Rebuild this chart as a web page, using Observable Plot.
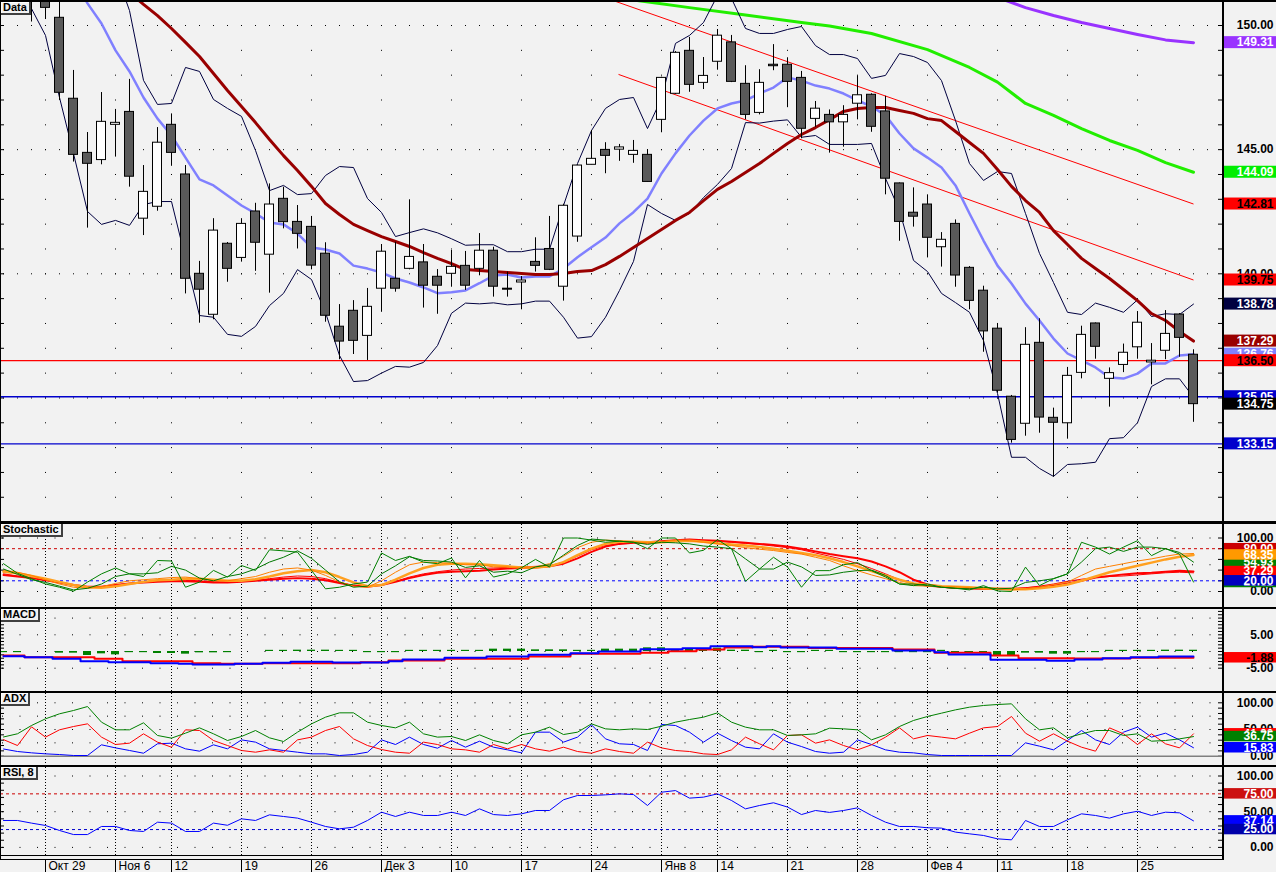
<!DOCTYPE html>
<html><head><meta charset="utf-8">
<script src="https://cdn.jsdelivr.net/npm/d3@7"></script>
<script src="https://cdn.jsdelivr.net/npm/@observablehq/plot@0.6"></script>
<style>
html,body{margin:0;padding:0;background:#f2f2f2;}
#chart{position:relative;width:1276px;height:872px;background:#f2f2f2;overflow:hidden;}
.bar{position:absolute;background:#000;}
.tag{position:absolute;left:1px;font:bold 11px "Liberation Sans",Arial,sans-serif;color:#000;background:#f2f2f2;padding:0 2px 0 2px;line-height:11px;height:11px;border-right:2px solid #404040;border-bottom:2px solid #404040;box-shadow:inset 1px 1px 0 #fff;}
</style></head><body><div id="chart"></div>
<script>
// ---------- DATA (bar index k = -3 .. 82, k=0 is Oct 29) ----------
const firstK = -3;
const tickK = [0,5,9,14,19,24,29,34,39,44,48,53,58,63,68,73,78];
const tickLabels = ["Окт 29","Ноя 6","12","19","26","Дек 3","10","17","24","Янв 8","14","21","28","Фев 4","11","18","25"];

const open = [null,null,151.8,
151.6,150.31,147.05,144.87,144.58,146.00,146.52,142.22,142.70,146.00,
144.00,140.00,138.35,141.21,140.64,142.51,140.77,143.02,142.09,141.89,
140.81,137.87,138.51,137.50,139.40,139.80,140.20,140.46,139.88,140.00,
140.32,140.20,140.93,139.40,139.65,140.48,141.00,139.48,141.50,144.39,
144.99,145.00,144.79,144.79,146.20,147.25,148.98,147.69,148.54,149.32,
147.65,146.48,148.42,148.42,147.89,146.24,146.40,146.10,146.85,147.21,
146.54,143.64,142.46,142.79,141.07,142.01,140.24,139.32,137.79,135.05,
133.96,137.22,134.20,133.98,136.01,138.00,135.77,136.33,137.04,136.43,
136.90,138.36,136.74];
const high = [null,null,152.2,
152.0,151.3,148.19,145.69,147.30,146.62,147.83,144.36,145.89,146.44,
144.36,140.50,142.22,141.26,142.22,142.84,143.62,143.49,142.75,142.31,
141.25,138.76,138.92,139.41,141.18,141.27,142.98,141.18,140.17,140.94,
140.90,141.62,141.07,140.07,139.89,141.45,142.31,142.80,144.38,145.77,
145.28,145.21,145.37,145.00,147.92,148.95,149.52,148.71,149.84,149.60,
148.38,148.22,149.23,148.70,148.15,146.94,146.60,146.77,147.97,147.25,
147.15,143.66,143.46,143.18,141.66,142.17,140.29,139.50,137.99,135.10,
137.83,138.19,134.59,136.23,137.89,138.02,136.21,137.17,138.48,137.19,
138.52,138.40,136.94];
const low = [null,null,150.14,
150.24,146.98,144.50,141.84,144.39,144.70,143.49,141.54,142.52,144.33,
139.19,138.01,138.15,139.66,140.47,140.10,139.22,141.81,141.00,140.16,
138.05,136.54,136.75,136.51,138.45,139.26,140.16,138.62,138.37,139.46,
139.33,139.92,139.06,139.06,138.55,140.07,140.13,138.90,141.27,144.39,
144.03,144.53,144.45,143.70,145.68,147.22,147.31,147.42,148.20,147.70,
146.20,146.40,148.18,146.69,145.44,145.90,144.86,145.10,146.20,145.70,
143.18,141.31,141.88,140.64,140.27,139.46,138.55,136.84,135.20,133.18,
133.46,133.58,131.81,133.34,135.77,136.56,134.63,136.02,136.56,135.53,
136.54,136.64,134.02];
const close = [null,null,151.3,
150.71,147.29,144.79,144.43,146.12,146.08,143.91,143.30,145.28,144.87,
139.80,139.36,141.74,140.20,142.01,141.25,142.79,142.08,141.61,140.33,
138.31,137.27,137.30,138.67,140.89,139.40,140.68,139.52,139.52,140.28,
139.52,140.93,139.48,139.36,139.73,140.32,140.16,142.74,144.36,144.63,
144.75,145.09,144.95,143.70,147.89,148.90,147.61,147.97,149.59,147.73,
146.40,147.69,148.36,147.73,145.84,146.65,146.10,146.40,147.19,145.92,
143.83,142.09,142.30,141.45,141.37,139.93,138.91,137.68,135.29,133.31,
137.14,134.21,134.00,135.89,137.54,137.06,136.00,136.82,138.03,136.50,
137.58,137.42,134.75];

const bandUpper = [null,null,null,
null,null,null,null,null,152.2,150.60,147.79,146.82,146.86,
148.31,148.15,147.02,146.66,146.34,144.97,143.35,143.56,143.19,143.23,
143.96,144.32,144.28,143.03,142.47,141.50,141.66,141.81,141.65,141.41,
141.15,141.17,141.17,140.89,140.89,140.99,140.99,142.75,144.44,145.77,
146.66,147.02,147.10,145.85,147.06,149.28,149.60,150.12,151.21,151.09,
149.88,149.68,149.68,149.84,149.96,149.19,148.83,148.83,148.67,147.87,
147.99,148.87,148.75,148.51,147.78,146.17,144.44,143.76,144.12,144.04,
142.43,140.82,139.65,138.45,138.36,138.82,138.65,138.45,138.95,138.28,
138.39,138.36,138.78];
const bandMiddle = [null,null,null,
null,null,151.9,150.89,150.08,149.00,148.15,147.10,146.25,145.57,
144.68,143.80,143.56,143.15,142.75,142.43,142.07,141.99,141.62,141.06,
140.98,140.82,140.33,140.21,140.05,139.81,139.65,139.45,139.22,139.26,
139.33,139.62,139.93,139.97,139.85,139.89,139.89,140.21,140.67,141.07,
141.46,142.03,142.48,143.03,144.04,144.85,145.57,146.17,146.66,146.86,
146.98,147.26,147.50,147.91,147.78,147.58,147.46,147.26,146.98,146.74,
146.38,145.65,145.05,144.68,144.28,143.56,142.43,141.34,140.33,139.61,
138.80,138.12,137.39,136.79,136.51,136.23,135.82,135.78,135.98,136.39,
136.39,136.71,136.76];
const bandLower = [null,151.30,150.68,
149.60,147.10,144.84,142.51,141.99,142.15,141.95,142.79,142.91,142.91,
140.62,138.32,138.25,137.56,137.48,137.88,138.72,139.21,140.17,139.77,
138.44,136.71,135.66,135.70,136.00,136.27,136.24,136.43,137.11,138.41,
138.82,138.79,138.83,138.75,138.79,138.90,138.90,138.25,137.41,137.47,
138.25,139.33,140.50,142.79,142.43,142.15,142.43,143.07,143.60,144.24,
146.09,146.07,146.15,146.20,145.50,145.57,145.21,145.21,145.21,145.25,
143.84,142.55,140.54,140.09,139.21,138.84,138.45,137.31,135.18,132.61,
132.61,132.16,131.84,132.32,132.35,132.41,133.36,133.40,134.00,135.46,
135.77,135.77,135.03];
const maRed = [null,null,null,
null,null,null,null,null,151.9,151.33,150.85,150.40,149.88,
149.32,148.75,148.07,147.38,146.74,146.09,145.41,144.76,144.16,143.52,
142.83,142.39,141.99,141.74,141.50,141.30,141.10,140.85,140.62,140.41,
140.17,140.13,140.09,140.05,140.01,139.97,139.97,140.01,140.09,140.13,
140.37,140.70,141.06,141.42,141.78,142.15,142.47,142.95,143.40,143.72,
144.08,144.44,144.85,145.25,145.61,145.89,146.21,146.54,146.66,146.70,
146.70,146.58,146.46,146.25,146.17,145.73,145.29,144.85,144.20,143.52,
142.95,142.47,141.74,141.18,140.62,140.21,139.81,139.37,138.92,138.40,
138.12,137.68,137.29];
const maGreenK = [42,46,50,54,56,59,63,66,68,70,72,74,76,78,80,82];
const maGreenV = [151.03,150.72,150.42,150.12,149.98,149.68,149.03,148.31,147.72,146.86,146.38,145.85,145.37,144.97,144.48,144.09];
const maPurpleK = [68,70,72,74,76,78,80,82];
const maPurpleV = [151.13,150.72,150.40,150.12,149.88,149.64,149.42,149.31];
const trendStartK = [40.57,40.93];
const trendStartV = [151.00,148.03];
const trendEndK = [82,82];
const trendEndV = [142.81,139.75];
const levelRed = [136.50];
const levelBlue = [135.05,133.15];

const stochK1 = [52,34,24,
14,8,0.5,17.6,33,44,33,28,58,57,
8,17.6,39.4,27,48.6,39.4,78,76,73.5,39.4,
5,8,14,17.6,72,58,65.7,54.8,52,62.6,
25.5,58,27,33,44.4,60,45.6,100,100,96,
92,94,92,80,100,100,72,77,97,80,
19,42,64,46,8,39,39,50,54,39,
27,14,11,14,8,6,3,11,1,0,
45.6,11,24,33,92,83,70,83,95,67,
80,70,17.6];
const stochK2 = [42,32,22,
17,10,3,6,14,28,33,33,35,47,
40,25,20,28,33,42,55,64,76,62,
40,18,8,10,33,48,65,58,57,55,
45,48,36,38,35,46,50,68,86,98,
96,94,92,88,92,91,89,85,83,80,
61,42,42,55,46,30,31,36,39,40,
30,14,14,11,8,6,5,8,5,6,
17,20,24,33,55,80,83,75,83,83,
80,73,54.93];
const stochD1 = [40,36,30,
22,14,8,6,9,15,20,22,24,26,
27,24,20,20,24,28,36,42,44,40,
30,18,10,8,20,36,50,55,54,53,
50,50,46,46,44,46,52,66,82,92,
96,95,93,91,93,96,95,92,89,86,
82,79,76.6,73,70,64,58,48,39,31,
24,17,11,10,9,9,7,5,4,3,
5,8,13,17.6,30,42,47,52,57,61,
66,70,71];
const stochD2 = [37,34,29,
24,18,12,8,7,10,14,18,21,22,
24,24,22,20,20,23,28,34,38,40,
36,27,17,10,12,22,34,44,50,52,
52,51,49,47,45,45,47,55,68,80,
89,93,93,92,92,94,95,93,90,88,
86,83,80,76,72,68,62,55,47,38,
30,22,15,12,10,9,8,6,5,4,
4,6,9,13,20,28,36,42,48,54,
60,65,68.35];
const stochS1 = [31,28,25,
21,17,12,9,9,12,15,17,18,19,
19,18,17,17,18,20,22,24,25,24,
21,16,11,9,12,18,25,31,35,37,
38,39,41,43,44,45,47,52,62,74,
84,89,91,92,94,96,97,96,95,93,
91,89,87,84,80,75,70,66,62,56,
47,36,22,13,9,7,6,5,5,5,
6,8,11,15,20,26,29,32,34,35,
37,39,37.29];
const stochS2 = [33,29,26,
22,17,12,9,9,12,15,18,19,20,
21,20,18,18,19,21,24,27,29,28,
24,17,11,9,12,19,27,33,37,40,
42,43,44,45,46,47,48,55,66,78,
86,90,91,90,92,95,96,95,94,92,
90,88,85,82,78,72,66,60,52,43,
33,22,14,10,8,6,5,5,4,5,
7,10,14,19,23,26,28,29,31,33,
35,36,35];
const stochLevels = [80,20];

const macdLine = [-1.4,-1.4,-1.7,
-1.7,-2.2,-2.2,-2.9,-2.9,-3.2,-3.2,-3.2,-3.5,-3.5,
-3.7,-3.9,-3.9,-3.9,-3.7,-3.7,-3.4,-3.4,-3.1,-3.1,
-3.1,-3.3,-3.3,-3.3,-3.3,-2.9,-2.4,-2.4,-2.4,-1.9,
-1.9,-1.9,-1.5,-1.5,-1.5,-1.0,-1.0,-1.0,-0.5,-0.5,
0,0,0,0.7,0.7,0.7,1.0,1.0,1.6,1.6,
1.6,1.3,1.6,1.2,1.2,1.2,1.2,0.8,0.8,0.8,
0.8,0.3,0.3,0.3,-0.2,-0.9,-0.9,-0.9,-2.5,-2.5,
-2.5,-2.5,-2.8,-2.8,-2.4,-2.4,-2.0,-2.0,-1.7,-1.7,
-1.5,-1.5,-1.5];
const macdSignal = [-1.2,-1.2,-1.7,
-1.7,-1.7,-1.7,-1.7,-2.2,-2.2,-2.9,-2.9,-2.9,-2.9,
-2.9,-3.5,-3.5,-3.7,-3.7,-3.7,-3.5,-3.5,-3.5,-3.5,
-3.5,-3.5,-3.5,-3.2,-3.2,-2.7,-2.7,-2.7,-2.7,-2.2,
-2.2,-2.2,-2.2,-2.2,-2.2,-1.5,-1.5,-1.5,-0.7,-0.7,
-0.7,-0.7,-0.7,-0.4,-0.4,0.1,0.1,0.6,0.6,1.2,
1.2,1.4,1.4,1.4,1.4,1.05,1.05,1.05,1.05,1.05,
1.05,0.6,0.6,0.6,-0.4,-0.4,-0.4,-0.4,-1.2,-1.2,
-2.0,-2.0,-2.0,-2.0,-2.1,-2.1,-2.1,-2.1,-1.9,-1.9,
-1.9,-1.9,-1.88];

const adxLine = [36,42,57.5,
70,79.4,85.6,93,63.7,49.4,49.4,62.5,38.8,33.8,
43.2,53.1,41.9,29.4,36.9,48.1,34.4,27.5,45,60.6,
73.1,81.2,81.2,63.7,57.5,53.1,63.7,41.9,35.7,36.9,
29.4,40,29.4,23.2,40,45,54.4,40.6,45,60.6,
51.2,49.4,51.2,50,56.2,63.7,68.7,73.1,81.2,63.7,
54.4,49.4,49.4,38.8,40,41.9,52.5,51.2,49.4,30.6,
40,55.6,66.9,74.4,80.6,86.8,91.8,95,96.8,98.1,
70,49.4,53.1,34.4,41.9,48.1,48.1,38.8,41.9,28.1,
29.4,32.5,36.75];
const adxRed = [31,20,55,
35.7,49.4,55.6,60.6,35.7,21.9,24.4,41.9,26.3,16.9,
49.4,48.1,29.4,20,10.7,7.5,11.9,7.5,30.6,35.7,
48.1,55.6,32.5,20,12.5,7.5,5.6,26.3,21.9,13.8,
11.9,7.5,21.9,13.8,21.9,13.8,9.4,16.9,8.8,5.6,
13.8,8.8,5.6,26.3,15.6,10.7,8.8,4.4,3.1,11.9,
35.7,23.2,11.9,38.8,40,24.4,30.6,20,11.9,21.3,
35.7,53.1,32.5,38.8,35.7,32.5,43.1,53.1,55.6,74.4,
43.1,28.1,41.9,28.1,16.9,9.4,53.1,41.9,21.9,41.9,
23.2,15.6,41.9];
const adxBlue = [13.5,8.8,6.3,
4.4,3.1,1.3,1.3,21.3,15.6,10.7,5.6,23.2,24.4,
13.8,9.4,21.3,13.8,30.6,26.3,13.8,10.7,7.5,4.4,
4.4,1.3,3.1,7.5,30.6,21.9,35.7,21.9,15,29.4,
16.9,28.1,16.9,11.9,6.3,45,45,26.3,35.7,58.7,
32.5,23.2,21.9,10.7,59.4,57.5,45,26.3,43.1,29.4,
16.9,13.8,41.9,26.3,18.1,8.8,5.6,7.5,30.6,21.9,
11.9,7.5,6.3,3.1,1.3,1.3,1.3,1.3,1.3,1.3,
25,18.8,11.9,29.4,48.1,30.6,21.9,45,54.4,35.7,
43.1,30.6,15.83];

const rsiLine = [37.7,37.7,34,
30.7,23.7,18,18,29.3,29.3,23.7,22.3,35.3,34,
22.3,22.3,34,31,40,37.7,45.6,43.3,41,35.3,
29.3,26,28.3,37.7,49.3,43.3,49.3,44.7,44.7,49.3,
44.7,54,46,44.7,47,51.7,51.7,66.7,72.7,72.7,
73.6,75,74,58.7,77.3,79.6,69,70.4,75,65.7,
54,58.7,62.5,56.5,46,51.7,49,51.7,55.4,44.7,
35.3,29.3,29.3,27.5,27,21.4,19,16.7,12,10.6,
37.7,29.3,29.3,38.7,47,44.7,41,47,50.6,44.7,
49.3,48.4,37.14];
const rsiLevels = [75,25];

const priceAxisLabels = [150,145,140];
const priceTags = [149.31,144.09,142.81,139.75,138.78,137.29,136.76,136.50,135.05,134.75,133.15];
const stochAxisLabels = [100,0];
const stochTags = [80.00,54.93,68.35,37.29,16.82,20.00];
const macdAxisLabels = [5,-5];
const macdTags = [-1.88];
const adxAxisLabels = [100,50,0];
const adxTags = [41.90,36.75,15.83];
const rsiAxisLabels = [100,50,0];
const rsiTags = [75.00,37.14,25.00];

// ---------- STYLES ----------
const priceTagStyle = [["#9933ff","#fff"],["#00ee00","#fff"],["#ff0000","#000"],["#ff0000","#000"],["#000040","#fff"],["#990000","#fff"],["#8080ff","#fff"],["#ff0000","#000"],["#0000cc","#fff"],["#000000","#fff"],["#0000cc","#fff"]];
const stochTagStyle = [["#cc0000","#fff"],["#008000","#fff"],["#ff9900","#fff"],["#ff0000","#fff"],["#008000","#fff"],["#0000c0","#fff"]];
const macdTagStyle = [["#ff0000","#000"]];
const adxTagStyle = [["#ff0000","#fff"],["#008000","#fff"],["#0000ff","#fff"]];
const rsiTagStyle = [["#cc1010","#fff"],["#0000ff","#fff"],["#0000aa","#fff"]];

// ---------- RENDER ----------
const chart = document.getElementById("chart");
const W = 1276;
const kAt = px => (px - 45) / 14;
const FONT = "Liberation Sans, Arial, sans-serif";
const bars = d3.range(firstK, firstK + open.length);
const ser = arr => bars.map((k, i) => ({k, v: arr[i]}));
const XR = kAt(1222);

function addPanel(top, height, yDomain, marks) {
  const svg = Plot.plot({
    width: W, height, marginTop: 0, marginRight: 0, marginBottom: 0, marginLeft: 0,
    x: {domain: [kAt(0), kAt(W)], range: [0, W], axis: null},
    y: {domain: yDomain, range: [height, 0], axis: null},
    style: {background: "transparent", overflow: "visible"},
    marks
  });
  Object.assign(svg.style, {position: "absolute", left: "0px", top: top + "px"});
  chart.appendChild(svg);
  return svg;
}
function tagMarks(vals, styles, ppu, hpx) {
  const h = hpx / 2 / ppu;
  return vals.flatMap((v, i) => [
    Plot.rect([v], {x1: kAt(1224), x2: kAt(1276), y1: v - h, y2: v + h, fill: styles[i][0]}),
    Plot.text([v], {x: kAt(1273), y: v, text: () => v.toFixed(2), textAnchor: "end", fill: styles[i][1], fontWeight: "bold", fontSize: 12, fontFamily: FONT})
  ]);
}
function axisTextMarks(vals) {
  return [Plot.text(vals, {x: kAt(1273), y: d => d, text: d => d.toFixed(2), textAnchor: "end", fill: "#000", fontWeight: "bold", fontSize: 12, fontFamily: FONT})];
}
function edgeTicks(vals) {
  return [
    Plot.ruleY(vals, {x1: kAt(0), x2: kAt(4), stroke: "#000"}),
    Plot.ruleY(vals, {x1: kAt(1218), x2: kAt(1222), stroke: "#000"})
  ];
}
function subGrid(rows) {
  return [
    Plot.ruleX(tickK, {stroke: "#000", strokeDasharray: "1,2"}),
    Plot.ruleY(rows, {x1: kAt(2), x2: XR, stroke: "#000", strokeDasharray: "1,16.5"})
  ];
}

// Data panel
{
  const H = 521, ppu = 24.83;
  const lo = 150 - (H - 25) / ppu, hi = 150 + 25 / ppu;
  const candles = bars.map((k, i) => ({k, o: open[i], h: high[i], l: low[i], c: close[i]})).filter(d => d.o != null);
  const priceRows = d3.range(131, 151);
  const dots = [];
  for (const p of priceRows) for (const k of tickK) dots.push({k, p});
  for (const p of priceRows.filter(p => p % 5 === 0)) for (const k of d3.range(-3, 84)) dots.push({k, p});
  const trends = trendStartK.map((k, i) => ({k1: k, v1: trendStartV[i], k2: trendEndK[i], v2: trendEndV[i]}));
  const bw = 4.5 / 14;
  addPanel(0, H, [lo, hi], [
    Plot.rect(dots, {x1: d => d.k, x2: d => d.k + 1 / 14, y1: d => d.p, y2: d => d.p - 1 / ppu, fill: "#000"}),
    ...edgeTicks(priceRows),
    Plot.ruleY(levelRed, {x1: kAt(0), x2: XR, stroke: "#ff0000", strokeWidth: 1.2}),
    Plot.ruleY(levelBlue, {x1: kAt(0), x2: XR, stroke: "#0000cc", strokeWidth: 1.4}),
    Plot.line(ser(maPurpleV.length ? [] : []), {x: "k", y: "v"}),
    Plot.line(maPurpleK.map((k, i) => ({k, v: maPurpleV[i]})), {x: "k", y: "v", stroke: "#9933ff", strokeWidth: 3, clip: true}),
    Plot.line(maGreenK.map((k, i) => ({k, v: maGreenV[i]})), {x: "k", y: "v", stroke: "#22ee00", strokeWidth: 3, clip: true}),
    Plot.link(trends, {x1: "k1", y1: "v1", x2: "k2", y2: "v2", stroke: "#ff0000", strokeWidth: 1, clip: true}),
    Plot.line(ser(bandUpper), {x: "k", y: "v", stroke: "#000040", strokeWidth: 1, clip: true}),
    Plot.line(ser(bandLower), {x: "k", y: "v", stroke: "#000040", strokeWidth: 1, clip: true}),
    Plot.line(ser(bandMiddle), {x: "k", y: "v", stroke: "#8080ff", strokeWidth: 2.5, clip: true}),
    Plot.line(ser(maRed), {x: "k", y: "v", stroke: "#990000", strokeWidth: 3, clip: true}),
    Plot.ruleX(candles, {x: "k", y1: "l", y2: "h", stroke: "#000", clip: true}),
    Plot.rect(candles.filter(d => d.c >= d.o), {x1: d => d.k - bw, x2: d => d.k + bw, y1: "o", y2: "c", fill: "#fff", stroke: "#000", clip: true}),
    Plot.rect(candles.filter(d => d.c < d.o), {x1: d => d.k - bw, x2: d => d.k + bw, y1: "c", y2: "o", fill: "#5a5a5a", stroke: "#000", clip: true}),
    ...axisTextMarks(priceAxisLabels),
    ...tagMarks(priceTags, priceTagStyle, ppu, 12)
  ]);
}
// Stochastic
{
  const top = 524, H = 83, ppu = 0.535, z = 591 - top;
  addPanel(top, H, [-(H - z) / ppu, z / ppu], [
    ...subGrid([100, 50, 0]),
    ...edgeTicks([0, 20, 40, 60, 80, 100]),
    Plot.ruleY(stochLevels.slice(0, 1), {x1: kAt(0), x2: XR, stroke: "#cc0000", strokeDasharray: "3,3"}),
    Plot.ruleY(stochLevels.slice(1), {x1: kAt(0), x2: XR, stroke: "#0000ff", strokeDasharray: "3,3"}),
    Plot.line(ser(stochS1), {x: "k", y: "v", stroke: "#ff0000", strokeWidth: 2}),
    Plot.line(ser(stochS2), {x: "k", y: "v", stroke: "#ff0000", strokeWidth: 1}),
    Plot.line(ser(stochD2), {x: "k", y: "v", stroke: "#ffa020", strokeWidth: 2.5}),
    Plot.line(ser(stochD1), {x: "k", y: "v", stroke: "#ff8000", strokeWidth: 1}),
    Plot.line(ser(stochK2), {x: "k", y: "v", stroke: "#007800", strokeWidth: 1}),
    Plot.line(ser(stochK1), {x: "k", y: "v", stroke: "#008000", strokeWidth: 1}),
    ...axisTextMarks(stochAxisLabels),
    ...tagMarks(stochTags, stochTagStyle, ppu, 10.5)
  ]);
}
// MACD
{
  const top = 609, H = 82, ppu = 3.34, z = 651 - top;
  const hist = bars.map((k, i) => ({k, h: macdLine[i] - macdSignal[i]}))
    .filter(d => Math.abs(d.h) > 0.05)
    .map(d => ({k: d.k, h: Math.sign(d.h) * Math.max(Math.abs(d.h), 0.35)}));
  addPanel(top, H, [-(H - z) / ppu, z / ppu], [
    ...subGrid([10, 5, 0, -5]),
    ...edgeTicks(d3.range(-5, 13)),
    Plot.rect(hist, {x1: d => d.k - 4 / 14, x2: d => d.k + 4 / 14, y1: 0, y2: "h", fill: "#008000"}),
    Plot.line(ser(macdSignal), {x: "k", y: "v", stroke: "#ff0000", strokeWidth: 2, curve: "step"}),
    Plot.line(ser(macdLine), {x: "k", y: "v", stroke: "#0000ff", strokeWidth: 2, curve: "step"}),
    ...axisTextMarks(macdAxisLabels),
    ...tagMarks(macdTags, macdTagStyle, ppu, 10.5)
  ]);
}
// ADX
{
  const top = 693, H = 72, ppu = 0.534, z = 755.7 - top;
  addPanel(top, H, [-(H - z) / ppu, z / ppu], [
    ...subGrid([100, 75, 50, 25]),
    ...edgeTicks(d3.range(0, 101, 10)),
    Plot.ruleY([0], {x1: kAt(0), x2: XR, stroke: "#808080", strokeWidth: 1.5}),
    Plot.line(ser(adxBlue), {x: "k", y: "v", stroke: "#0000ff", strokeWidth: 1}),
    Plot.line(ser(adxRed), {x: "k", y: "v", stroke: "#ff0000", strokeWidth: 1}),
    Plot.line(ser(adxLine), {x: "k", y: "v", stroke: "#008000", strokeWidth: 1}),
    ...axisTextMarks(adxAxisLabels),
    ...tagMarks(adxTags, adxTagStyle, ppu, 10.5)
  ]);
}
// RSI
{
  const top = 767, H = 88, ppu = 0.714, z = 846.9 - top;
  addPanel(top, H, [-(H - z) / ppu, z / ppu], [
    ...subGrid([100, 50, 0]),
    ...edgeTicks(d3.range(0, 101, 10)),
    Plot.ruleY(rsiLevels.slice(0, 1), {x1: kAt(0), x2: XR, stroke: "#cc0000", strokeDasharray: "3,3"}),
    Plot.ruleY(rsiLevels.slice(1), {x1: kAt(0), x2: XR, stroke: "#0000cc", strokeDasharray: "3,3"}),
    Plot.line(ser(rsiLine), {x: "k", y: "v", stroke: "#0000ff", strokeWidth: 1}),
    ...axisTextMarks(rsiAxisLabels),
    ...tagMarks(rsiTags, rsiTagStyle, ppu, 10.5)
  ]);
}
// X axis
addPanel(859, 13, [0, 1], [
  Plot.ruleX(tickK, {y1: 0, y2: 1, stroke: "#000"}),
  Plot.text(tickK, {x: d => d, y: 0.45, text: (d, i) => tickLabels[i], textAnchor: "start", dx: 3, fill: "#000", fontSize: 12, fontFamily: FONT})
]);

// frame lines and panel captions
function bar(l, t, w, h) { const d = document.createElement("div"); d.className = "bar"; Object.assign(d.style, {left: l + "px", top: t + "px", width: w + "px", height: h + "px"}); chart.appendChild(d); }
bar(0, 0, W, 2);
bar(0, 521, W, 3);
bar(0, 607, W, 2);
bar(0, 691, W, 2);
bar(0, 765, W, 2);
bar(0, 855, 1224, 1);
bar(0, 859, 1224, 1);
bar(0, 0, 1, 860);
bar(1222, 0, 2, 860);
function caption(text, top) { const d = document.createElement("div"); d.className = "tag"; d.textContent = text; d.style.top = top + "px"; chart.appendChild(d); }
caption("Data", 2);
caption("Stochastic", 524);
caption("MACD", 609);
caption("ADX", 693);
caption("RSI, 8", 767);
</script></body></html>
